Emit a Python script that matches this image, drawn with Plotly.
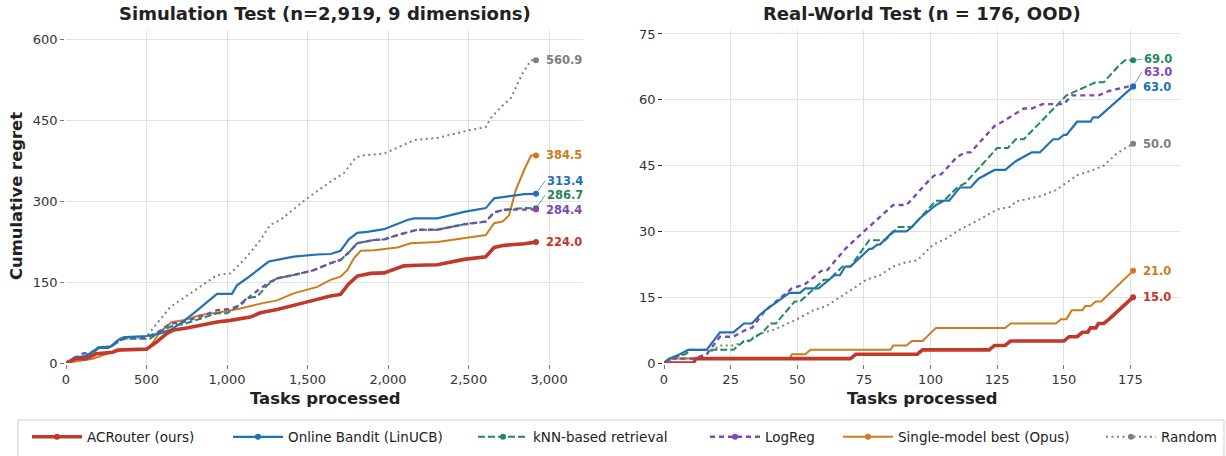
import plotly.graph_objects as go

FONT = "DejaVu Sans"

# ---------------- data ----------------
names = ["ACRouter (ours)", "Online Bandit (LinUCB)", "kNN-based retrieval",
         "LogReg", "Single-model best (Opus)", "Random"]

# Simulation test (n=2,919)
sim_acr_x = [0, 62, 124, 187, 290, 320, 502, 564, 627, 668, 751, 834, 938, 1021, 1145, 1207, 1311, 1456, 1580,
             1643, 1705, 1757, 1809, 1892, 1975, 2099, 2183, 2307, 2472, 2607, 2659, 2721, 2846, 2897, 2919]
sim_acr_y = [0, 8, 8, 17, 20, 24, 26, 39, 55, 61, 65, 70, 76, 79, 85, 93, 99, 110, 120,
             124, 127, 147, 161, 166, 167, 180, 181, 182, 192, 197, 214, 218, 221, 223, 224.0]

sim_lin_x = [0, 56, 108, 159, 201, 274, 336, 367, 502, 585, 647, 709, 792, 875, 938, 1031, 1062, 1124, 1187,
             1259, 1311, 1414, 1560, 1643, 1705, 1757, 1809, 1871, 1975, 2120, 2162, 2307, 2472, 2607, 2659,
             2721, 2846, 2919]
sim_lin_y = [0, 11, 12, 19, 29, 30, 45, 48, 50, 55, 61, 73, 92, 113, 128, 128, 144, 157, 172,
             188, 191, 197, 201, 202, 208, 229, 241, 243, 248, 265, 268, 268, 280, 287, 305,
             308, 313, 313.4]

sim_knn_x = [0, 56, 108, 159, 201, 274, 336, 367, 522, 585, 668, 730, 834, 938, 1000, 1062, 1124, 1187, 1249,
             1311, 1414, 1539, 1643, 1705, 1757, 1809, 1913, 1975, 2058, 2183, 2307, 2472, 2607, 2659, 2721,
             2846, 2919]
sim_knn_y = [0, 8, 11, 17, 27, 28, 42, 45, 45, 58, 70, 72, 82, 92, 92, 104, 120, 123, 144,
             157, 163, 172, 185, 191, 205, 222, 228, 229, 237, 247, 247, 257, 262, 279, 284,
             287, 286.7]

sim_lr_x = [0, 56, 108, 159, 201, 274, 336, 367, 502, 560, 647, 730, 834, 938, 1021, 1083, 1166, 1249, 1311,
            1414, 1539, 1643, 1705, 1757, 1809, 1913, 1975, 2058, 2183, 2307, 2472, 2607, 2659, 2721, 2846, 2919]
sim_lr_y = [0, 9, 18, 20, 28, 30, 45, 48, 48, 55, 73, 76, 86, 98, 100, 108, 129, 147, 157,
            163, 172, 185, 191, 205, 222, 228, 229, 237, 247, 247, 257, 262, 279, 284, 284, 284.4]

sim_opus_x = [0, 104, 166, 274, 336, 502, 540, 585, 657, 730, 834, 938, 1083, 1207, 1311, 1414, 1560, 1643,
              1705, 1747, 1788, 1830, 1913, 2058, 2141, 2307, 2472, 2607, 2659, 2711, 2752, 2794, 2846, 2888, 2919]
sim_opus_y = [0, 5, 8, 19, 23, 24, 38, 58, 76, 79, 89, 93, 101, 110, 116, 129, 141, 154,
              160, 172, 194, 208, 209, 214, 222, 224, 231, 237, 259, 262, 274, 321, 358, 384.5, 384.5]

sim_rand_x = [0, 60, 120, 200, 280, 360, 440, 502, 564, 649, 773, 938, 1021, 1124, 1207, 1269, 1331, 1497, 1601,
              1643, 1726, 1798, 1830, 1975, 2162, 2307, 2514, 2607, 2638, 2701, 2763, 2836, 2888, 2919]
sim_rand_y = [0, 8, 14, 28, 32, 45, 46, 50, 73, 104, 129, 163, 166, 197, 228, 256, 265, 305, 327,
              336, 352, 380, 384, 388, 413, 417, 432, 437, 454, 474, 491, 537, 561, 560.9]

# Real-world test (n=176)
rw_acr_x = [0, 11, 12, 70, 72, 95, 97, 122, 124, 128, 130, 150, 152, 155, 157, 159, 160, 162, 163, 165, 167, 176]
rw_acr_y = [0, 0, 1, 1, 2, 2, 3, 3, 4, 4, 5, 5, 6, 6, 7, 7, 8, 8, 9, 9, 10, 15]

rw_lin_x = [0, 2, 6, 9, 16, 21, 26, 30, 33, 36, 38, 47, 51, 53, 58, 60, 64, 66, 68, 70,
            77, 78, 80, 81, 86, 91, 93, 96, 102, 105, 107, 111, 115, 118, 121, 124, 128, 132, 135, 138,
            141, 146, 148, 150, 151, 155, 160, 161, 163, 176]
rw_lin_y = [0, 1, 2, 3, 3, 7, 7, 9, 9, 11, 12, 16, 16, 17, 17, 18, 20, 20, 22, 22,
            26, 26, 27, 27, 30, 30, 31, 33, 36, 37, 37, 40, 40, 42, 43, 44, 44, 46, 47, 48,
            48, 51, 51, 52, 52, 55, 55, 56, 56, 63]

rw_knn_x = [0, 2, 8, 10, 19, 26, 30, 32, 37, 40, 42, 49, 51, 58, 60, 62, 67, 70, 77, 83, 88, 93,
            102, 105, 110, 113, 125, 129, 132, 135, 151, 162, 165, 171, 173, 176]
rw_knn_y = [0, 1, 2, 3, 3, 3, 5, 5, 7, 9, 9, 14, 14, 18, 19, 19, 22, 22, 28, 28, 31, 31,
            37, 37, 40, 41, 49, 49, 51, 51, 61, 64, 64, 68, 69, 69]

rw_lr_x = [0, 2, 11, 16, 21, 26, 32, 33, 38, 48, 53, 59, 61, 68, 75, 86, 91, 100, 102, 104, 110, 113, 115,
           124, 127, 132, 135, 138, 142, 150, 153, 163, 167, 174, 176]
rw_lr_y = [0, 1, 1, 2, 6, 6, 8, 8, 12, 17, 18, 21, 21, 26, 30, 36, 36, 42, 43, 43, 47, 48, 48,
           54, 55, 57, 58, 58, 59, 59, 61, 61, 62, 63, 63]

rw_opus_x = [0, 2, 47, 48, 53, 55, 85, 86, 91, 93, 97, 102, 128, 130, 147, 149, 151, 153, 157, 158, 160, 162, 164, 176]
rw_opus_y = [0, 1, 1, 2, 2, 3, 3, 4, 4, 5, 5, 8, 8, 9, 9, 10, 10, 12, 12, 13, 13, 14, 14, 21]

rw_rand_x = [0, 5, 12, 16, 21, 26, 31, 36, 41, 50, 56, 61, 66, 71, 76, 81, 86, 91, 95, 101,
             106, 111, 118, 125, 130, 132, 141, 147, 151, 155, 161, 165, 170, 176]
rw_rand_y = [0, 1, 1, 2, 4, 4, 5, 6.7, 7.5, 10, 12, 13, 15, 17, 19, 20, 22, 23, 23.4, 27,
             28.4, 30.4, 32.6, 35, 35.6, 36.8, 38, 39.4, 41, 42.8, 44, 45, 47.8, 50]

sim_x_ticks = [0, 500, 1000, 1500, 2000, 2500, 3000]
sim_y_ticks = [0, 150, 300, 450, 600]
rw_x_ticks = [0, 25, 50, 75, 100, 125, 150, 175]
rw_y_ticks = [0, 15, 30, 45, 60, 75]

# ---------------- styles ----------------
styles = [
    dict(color="#c0392b", width=3.6, dash="solid"),
    dict(color="#2271b5", width=2.2, dash="solid"),
    dict(color="#1e8a5a", width=2.0, dash="7px,3px"),
    dict(color="#7e4ab2", width=2.4, dash="5px,4px"),
    dict(color="#cf7b1c", width=2.0, dash="solid"),
    dict(color="#808080", width=2.0, dash="2px,3.5px"),
]
zorders = [6, 5, 3, 4, 2, 1]
legend_ids = ["legend", "legend2", "legend3", "legend4", "legend5", "legend6"]
legend_left_px = [27, 228, 473, 705, 838, 1101]

sim_data = [(sim_acr_x, sim_acr_y), (sim_lin_x, sim_lin_y), (sim_knn_x, sim_knn_y),
            (sim_lr_x, sim_lr_y), (sim_opus_x, sim_opus_y), (sim_rand_x, sim_rand_y)]
rw_data = [(rw_acr_x, rw_acr_y), (rw_lin_x, rw_lin_y), (rw_knn_x, rw_knn_y),
           (rw_lr_x, rw_lr_y), (rw_opus_x, rw_opus_y), (rw_rand_x, rw_rand_y)]

# label pixel offsets (dy) for end-value labels; arrow drawn if leader
sim_label_dy = [0, -13, -13, 0, 0, 0]
sim_label_arrow = [False, True, True, False, False, False]
rw_label_dy = [0, 0, -1, -15, 0, 0]
rw_label_arrow = [False, False, True, True, False, False]

fig = go.Figure()

for panel, data, xa, ya in [(0, sim_data, "x", "y"), (1, rw_data, "x2", "y2")]:
    for i, (xs, ys) in enumerate(data):
        st = styles[i]
        fig.add_trace(go.Scatter(
            x=xs, y=ys, xaxis=xa, yaxis=ya, name=names[i],
            mode="lines+markers",
            line=dict(color=st["color"], width=st["width"], dash=st["dash"]),
            marker=dict(size=6, color=st["color"]),
            selectedpoints=[len(xs) - 1],
            selected=dict(marker=dict(opacity=1)),
            unselected=dict(marker=dict(opacity=0)),
            showlegend=(panel == 0), legend=legend_ids[i], zorder=zorders[i],
            hoverinfo="skip", cliponaxis=False,
        ))

annotations = []
for panel, data, xa, ya, dys, arrows in [(0, sim_data, "x", "y", sim_label_dy, sim_label_arrow),
                                          (1, rw_data, "x2", "y2", rw_label_dy, rw_label_arrow)]:
    for i, (xs, ys) in enumerate(data):
        col = styles[i]["color"]
        txt = "<b>%.1f</b>" % ys[-1]
        if arrows[i]:
            annotations.append(dict(
                x=xs[-1], y=ys[-1], xref=xa, yref=ya, text=txt, showarrow=True,
                ax=9, ay=dys[i], axref="pixel", ayref="pixel",
                arrowhead=0, arrowwidth=0.7, arrowcolor=col, standoff=3,
                xanchor="left", yanchor="middle",
                font=dict(family=FONT, size=11.5, color=col)))
        else:
            annotations.append(dict(
                x=xs[-1], y=ys[-1], xref=xa, yref=ya, text=txt, showarrow=False,
                xanchor="left", yanchor="middle", xshift=8, yshift=-dys[i],
                font=dict(family=FONT, size=11.5, color=col)))

W, H = 1226, 456
def px(v):
    return v / W
def py(v):
    return 1 - v / H

title_font = dict(family=FONT, size=18, color="#222222")
label_font = dict(family=FONT, size=16.4, color="#222222")
annotations += [
    dict(text="<b>Simulation Test (n=2,919, 9 dimensions)</b>", x=px(325), y=py(14), xref="paper", yref="paper",
         showarrow=False, xanchor="center", yanchor="middle", font=title_font),
    dict(text="<b>Real-World Test (n = 176, OOD)</b>", x=px(922), y=py(14), xref="paper", yref="paper",
         showarrow=False, xanchor="center", yanchor="middle", font=title_font),
    dict(text="<b>Tasks processed</b>", x=px(325), y=py(398), xref="paper", yref="paper",
         showarrow=False, xanchor="center", yanchor="middle", font=label_font),
    dict(text="<b>Tasks processed</b>", x=px(922), y=py(398), xref="paper", yref="paper",
         showarrow=False, xanchor="center", yanchor="middle", font=label_font),
    dict(text="<b>Cumulative regret</b>", x=px(16), y=py(196), xref="paper", yref="paper",
         showarrow=False, xanchor="center", yanchor="middle", textangle=-90, font=label_font),
]

tick_font = dict(family=FONT, size=13, color="#333333")
common = dict(showgrid=True, gridcolor="#e2e2e2", gridwidth=1, showline=True, linewidth=1.5,
              ticks="outside", ticklen=4, tickwidth=1.2, zeroline=False, tickfont=tick_font,
              automargin=False)

ydom = [py(363), py(30)]
legend_font = dict(family=FONT, size=13.5, color="#222222")
layout_legends = {}
for i, lid in enumerate(legend_ids):
    layout_legends[lid] = dict(orientation="h", x=px(legend_left_px[i]), y=py(437), xanchor="left",
                               yanchor="middle", borderwidth=0, bgcolor="rgba(0,0,0,0)",
                               font=legend_font, itemwidth=50)

fig.update_layout(
    width=W, height=H, margin=dict(l=0, r=0, t=0, b=0, autoexpand=False),
    paper_bgcolor="white", plot_bgcolor="white",
    font=dict(family=FONT, color="#222222"),
    xaxis=dict(domain=[px(66), px(583)], range=[0, 2919 * 1.1], tickvals=sim_x_ticks, tickformat=",",
               linecolor="#777777", tickcolor="#777777", anchor="y", **common),
    yaxis=dict(domain=ydom, range=[0, 560.9 * 1.1], tickvals=sim_y_ticks,
               linecolor="#777777", tickcolor="#777777", anchor="x", **common),
    xaxis2=dict(domain=[px(664), px(1180)], range=[0, 176 * 1.1], tickvals=rw_x_ticks,
                linecolor="#777777", tickcolor="#777777", anchor="y2", **common),
    yaxis2=dict(domain=ydom, range=[0, 69 * 1.1], tickvals=rw_y_ticks,
                linecolor="#222222", tickcolor="#222222", anchor="x2", **common),
    annotations=annotations,
    shapes=[dict(type="rect", xref="paper", yref="paper", x0=px(18), x1=px(1224), y0=py(470), y1=py(420),
                 line=dict(color="#cccccc", width=1), fillcolor="white", layer="below")],
    showlegend=True,
    **layout_legends,
)

fig.write_html("out.html", config={"displayModeBar": False},
               post_script="document.body.style.margin='0px';document.body.style.overflow='hidden';")
